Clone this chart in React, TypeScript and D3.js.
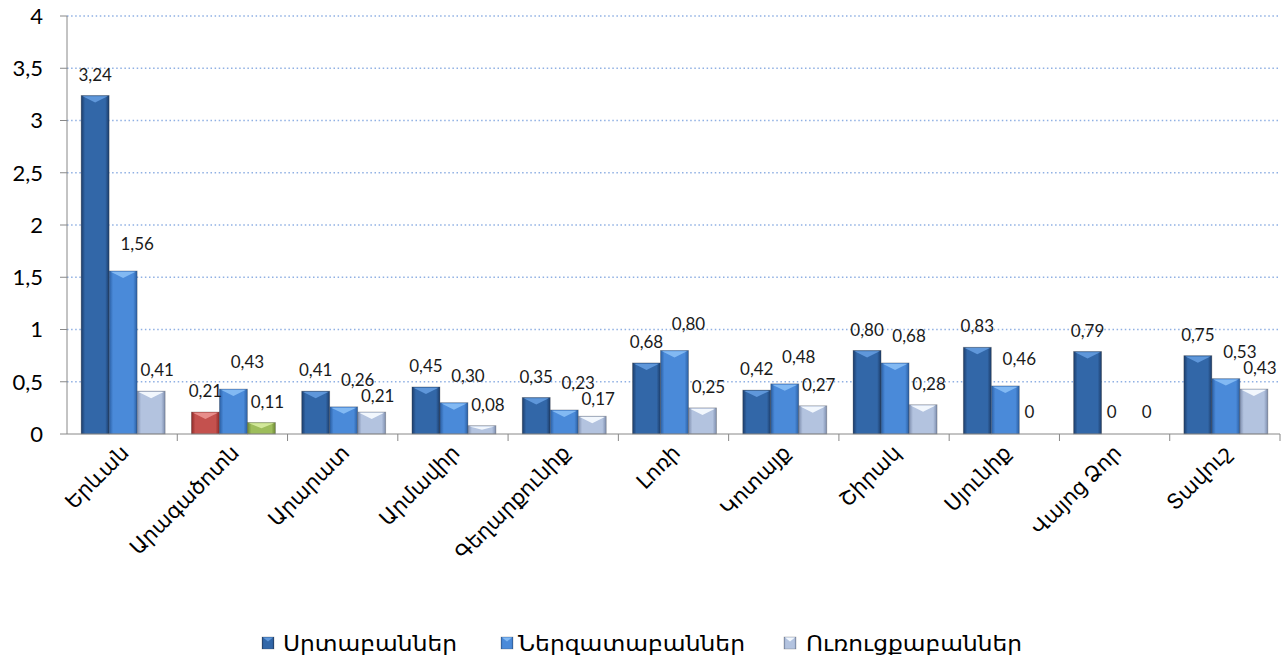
import React from "react";
import * as d3 from "d3";

const categories = ["Երևան", "Արագածոտն", "Արարատ", "Արմավիր", "Գեղարքունիք", "Լոռի", "Կոտայք", "Շիրակ", "Սյունիք", "Վայոց Ձոր", "Տավուշ"];
const seriesNames = ["Սրտաբաններ", "Ներզատաբաններ", "Ուռուցքաբաններ"];
const cardiology = [3.24, 0.21, 0.41, 0.45, 0.35, 0.68, 0.42, 0.8, 0.83, 0.79, 0.75];
const endocrinology = [1.56, 0.43, 0.26, 0.3, 0.23, 0.8, 0.48, 0.68, 0.46, 0, 0.53];
const oncology = [0.41, 0.11, 0.21, 0.08, 0.17, 0.25, 0.27, 0.28, 0, 0, 0.43];
const yTicks = [0, 0.5, 1, 1.5, 2, 2.5, 3, 3.5, 4];

const seriesValues = [cardiology, endocrinology, oncology];

type Pal = { edge: string; center: string; top: string };
const palettes: Record<string, Pal> = {
  s0: { edge: "#1b3b68", center: "#3267a8", top: "#5f97da" },
  s1: { edge: "#2a5ea2", center: "#4a8ad9", top: "#82b9f3" },
  s2: { edge: "#7d8dad", center: "#b3c3df", top: "#f2f7fd" },
  red: { edge: "#8a2927", center: "#c4514e", top: "#e88e8b" },
  green: { edge: "#6b8634", center: "#9dbd5b", top: "#d2e89a" },
};
// point-level colour overrides (series-category)
const pointColor: Record<string, string> = { "0-1": "red", "2-1": "green" };
// per-series data-label placement relative to bar top centre
const labelShift = [
  { dx: 0, dy: -21 },
  { dx: 14, dy: -27 },
  { dx: 6, dy: -21 },
];

const fmt = (v: number) => (v === 0 ? "0" : d3.format(".2f")(v).replace(".", ","));
const fmtTick = (v: number) => String(v).replace(".", ",");

export default function App() {
  const W = 1285, H = 664;
  const left = 67, right = 1280, top = 16, bottom = 434;
  const x0 = d3.scaleBand<string>().domain(categories).range([left, right]).paddingInner(0).paddingOuter(0);
  const bw = 28;
  const groupW = bw * 3;
  const x1 = d3.scaleBand<number>().domain([0, 1, 2]).range([0, groupW]).padding(0);
  const groupOffset = (x0.bandwidth() - groupW) / 2 + 1;
  const y = d3.scaleLinear().domain([0, 4]).range([bottom, top]);

  const bars: any[] = [];
  seriesValues.forEach((vals, s) => {
    vals.forEach((v, i) => {
      const pk = pointColor[`${s}-${i}`] || `s${s}`;
      const bx = (x0(categories[i]) as number) + groupOffset + (x1(s) as number);
      const by = y(v);
      const sh = labelShift[s];
      const lx = bx + bw / 2 + (v === 0 ? -4 : sh.dx);
      const ly = by + (v === 0 ? -22 : sh.dy);
      bars.push({ s, i, v, pk, bx, by, bh: y(0) - by, lx, ly });
    });
  });

  // simple collision avoidance between neighbouring labels within a category
  categories.forEach((_, i) => {
    const ls = bars.filter((b) => b.i === i).sort((a, b) => a.s - b.s);
    for (let k = 1; k < ls.length; k++) {
      const a = ls[k - 1], b = ls[k];
      if (Math.abs(b.lx - a.lx) < 34 && Math.abs(b.ly - a.ly) < 16) {
        if (a.ly + 16 + 8 < b.by) b.ly = a.ly + 16;
        else b.lx = a.lx + 35;
      }
    }
  });

  const gradId = (k: string) => `grad-${k}`;

  const legendItems = [
    { x: 262, tx: 283, w: 174, k: "s0" },
    { x: 501, tx: 518, w: 227, k: "s1" },
    { x: 784, tx: 806, w: 216, k: "s2" },
  ];

  return (
    <svg width={W} height={H} style={{ position: "absolute", left: 0, top: 0, background: "#fff" }}>
      <defs>
        {Object.entries(palettes).map(([k, p]) => (
          <linearGradient key={k} id={gradId(k)} x1="0" x2="1" y1="0" y2="0">
            <stop offset="0%" stopColor={p.edge} />
            <stop offset="14%" stopColor={p.center} />
            <stop offset="55%" stopColor={p.center} />
            <stop offset="86%" stopColor={p.center} />
            <stop offset="100%" stopColor={p.edge} />
          </linearGradient>
        ))}
      </defs>

      {/* gridlines */}
      {yTicks.filter((t) => t > 0).map((t) => (
        <line key={"g" + t} x1={left} x2={right} y1={y(t)} y2={y(t)} stroke="#8fb0e3" strokeWidth={1.5} strokeDasharray="1.5,2.6" />
      ))}

      {/* y axis */}
      <line x1={left} x2={left} y1={top} y2={bottom} stroke="#888" strokeWidth={1} />
      {yTicks.map((t) => (
        <g key={"yt" + t}>
          <line x1={left - 7} x2={left} y1={y(t)} y2={y(t)} stroke="#888" />
          <text x={43} y={y(t)} dy="0.36em" textAnchor="end" fontFamily="Lato, 'Open Sans', sans-serif" fontSize={22} fill="#000">
            {fmtTick(t)}
          </text>
        </g>
      ))}

      {/* bars */}
      {bars.filter((b) => b.v > 0).map((b) => {
        const p = palettes[b.pk];
        const bev = Math.min(7, b.bh / 2);
        return (
          <g key={`b${b.s}-${b.i}`}>
            <rect x={b.bx} y={b.by} width={bw} height={b.bh} fill={`url(#${gradId(b.pk)})`} stroke="rgba(60,60,60,0.35)" strokeWidth={0.8} />
            <polygon
              points={`${b.bx + 1.5},${b.by + 0.8} ${b.bx + bw - 1.5},${b.by + 0.8} ${b.bx + bw / 2},${b.by + bev}`}
              fill={p.top}
            />
          </g>
        );
      })}

      {/* x axis */}
      <line x1={left} x2={right} y1={bottom} y2={bottom} stroke="#888" strokeWidth={1} />
      {categories.map((c, i) => (
        <line key={"xt" + i} x1={(x0(c) as number) + x0.bandwidth()} x2={(x0(c) as number) + x0.bandwidth()} y1={bottom} y2={bottom + 7} stroke="#888" />
      ))}

      {/* data labels */}
      {bars.map((b) => (
        <text
          key={`l${b.s}-${b.i}`}
          x={b.lx}
          y={b.ly}
          dy="0.36em"
          textAnchor="middle"
          fontFamily="Lato, 'Open Sans', sans-serif"
          fontSize={17}
          fill="#1a1a1a"
        >
          {fmt(b.v)}
        </text>
      ))}

      {/* category labels */}
      {categories.map((c) => {
        const cx = (x0(c) as number) + x0.bandwidth() / 2;
        return (
          <text key={"c" + c} transform={`translate(${cx + 8},${454}) rotate(-45)`} textAnchor="end" fontFamily="'Noto Sans', 'DejaVu Sans', serif" fontSize={21} fill="#000">
            {c}
          </text>
        );
      })}

      {/* legend */}
      {legendItems.map((it, k) => (
        <g key={"lg" + k}>
          <rect x={it.x} y={637} width={12} height={12} fill={`url(#${gradId(it.k)})`} stroke="rgba(60,60,60,0.4)" strokeWidth={0.6} />
          <polygon points={`${it.x + 1},${637.5} ${it.x + 11},${637.5} ${it.x + 6},${641.5}`} fill={palettes[it.k].top} />
          <text x={it.tx} y={643} dy="0.36em" fontFamily="'Noto Sans', 'DejaVu Sans', serif" fontSize={21} textLength={it.w} lengthAdjust="spacingAndGlyphs" fill="#000">
            {seriesNames[k]}
          </text>
        </g>
      ))}
    </svg>
  );
}
